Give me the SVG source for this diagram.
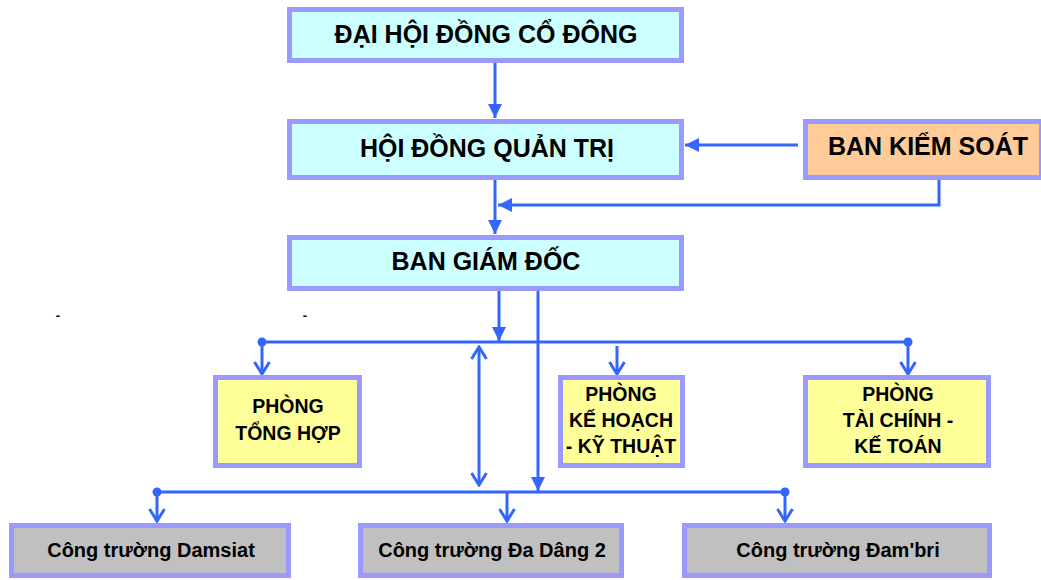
<svg xmlns="http://www.w3.org/2000/svg" width="1041" height="580" viewBox="0 0 1041 580">
<defs>
<style>
.box{stroke:#9999FF;stroke-width:5}
.cyan{fill:#CCFFFF}.yel{fill:#FFFF99}.peach{fill:#FFCC99}.gray{fill:#C0C0C0}
text{font-family:"Liberation Sans",Arial,sans-serif;font-weight:bold;fill:#000;text-anchor:middle}
.big{font-size:25px}.mid{font-size:19.5px}.sm{font-size:20px}
.c{stroke:#3366FF;stroke-width:3;fill:none}
.dot{fill:#3366FF}
</style>
<marker id="tri" viewBox="0 0 14 14" refX="14" refY="7" markerWidth="14" markerHeight="14" orient="auto" markerUnits="userSpaceOnUse"><path d="M0,0 L14,7 L0,14 z" fill="#3366FF"/></marker>
<marker id="chev" viewBox="0 0 16 18" refX="14" refY="9" markerWidth="16" markerHeight="18" orient="auto-start-reverse" markerUnits="userSpaceOnUse"><path d="M2,1.5 L14,9 L2,16.5" fill="none" stroke="#3366FF" stroke-width="3"/></marker>
</defs>
<rect width="1041" height="580" fill="#fff"/>
<g id="connectors">
<line class="c" x1="495" y1="63" x2="495" y2="118" marker-end="url(#tri)"/>
<line class="c" x1="798" y1="145" x2="685" y2="145" marker-end="url(#tri)"/>
<polyline class="c" points="939,180 939,205 498,205" marker-end="url(#tri)"/>
<line class="c" x1="495" y1="180" x2="495" y2="234" marker-end="url(#tri)"/>
<line class="c" x1="499" y1="291" x2="499" y2="341" marker-end="url(#tri)"/>
<line class="c" x1="538" y1="291" x2="538" y2="491" marker-end="url(#tri)"/>
<line class="c" x1="262" y1="342" x2="908" y2="342"/>
<circle class="dot" cx="262" cy="342" r="4.5"/>
<circle class="dot" cx="908" cy="342" r="4.5"/>
<line class="c" x1="262" y1="342" x2="262" y2="374" marker-end="url(#chev)"/>
<line class="c" x1="617" y1="346" x2="617" y2="374" marker-end="url(#chev)"/>
<line class="c" x1="908" y1="342" x2="908" y2="374" marker-end="url(#chev)"/>
<line class="c" x1="479" y1="347" x2="479" y2="485" marker-start="url(#chev)" marker-end="url(#chev)"/>
<line class="c" x1="157" y1="492" x2="785" y2="492"/>
<circle class="dot" cx="157" cy="492" r="4.5"/>
<circle class="dot" cx="785" cy="492" r="4.5"/>
<line class="c" x1="157" y1="492" x2="157" y2="521" marker-end="url(#chev)"/>
<line class="c" x1="507" y1="492" x2="507" y2="521" marker-end="url(#chev)"/>
<line class="c" x1="785" y1="492" x2="785" y2="521" marker-end="url(#chev)"/>
</g>
<g id="dhdcd"><rect class="box cyan" x="289.5" y="9.5" width="392" height="51"/><text class="big" x="486" y="43">ĐẠI HỘI ĐỒNG CỔ ĐÔNG</text></g>
<g id="hdqt"><rect class="box cyan" x="289.5" y="121.5" width="392" height="56"/><text class="big" x="487" y="157">HỘI ĐỒNG QUẢN TRỊ</text></g>
<g id="bks"><rect class="box peach" x="805.5" y="121.5" width="236" height="56"/><text class="big" x="928" y="155">BAN KIỂM SOÁT</text></g>
<g id="bgd"><rect class="box cyan" x="289.5" y="237.5" width="392" height="51"/><text class="big" x="486" y="270">BAN GIÁM ĐỐC</text></g>
<g id="dashes"><text x="58" y="320" style="font-size:13px">-</text><text x="305" y="320" style="font-size:13px">-</text></g>
<g id="pth"><rect class="box yel" x="215.5" y="377.5" width="144" height="88"/><text class="mid" x="288" y="413">PHÒNG</text><text class="mid" x="288" y="440">TỔNG HỢP</text></g>
<g id="pkh"><rect class="box yel" x="560.5" y="377.5" width="122" height="88"/><text class="mid" x="621" y="401">PHÒNG</text><text class="mid" x="621" y="427">KẾ HOẠCH</text><text class="mid" x="621" y="453">- KỸ THUẬT</text></g>
<g id="ptc"><rect class="box yel" x="805.5" y="377.5" width="183" height="88"/><text class="mid" x="898" y="401">PHÒNG</text><text class="mid" x="898" y="427">TÀI CHÍNH -</text><text class="mid" x="898" y="453">KẾ TOÁN</text></g>
<g id="ct1"><rect class="box gray" x="11.5" y="525.5" width="277" height="50"/><text class="sm" x="151" y="557">Công trường Damsiat</text></g>
<g id="ct2"><rect class="box gray" x="360.5" y="525.5" width="261" height="50"/><text class="sm" x="492" y="557">Công trường Đa Dâng 2</text></g>
<g id="ct3"><rect class="box gray" x="684.5" y="525.5" width="305" height="50"/><text class="sm" x="838" y="557">Công trường Đam'bri</text></g>
</svg>
